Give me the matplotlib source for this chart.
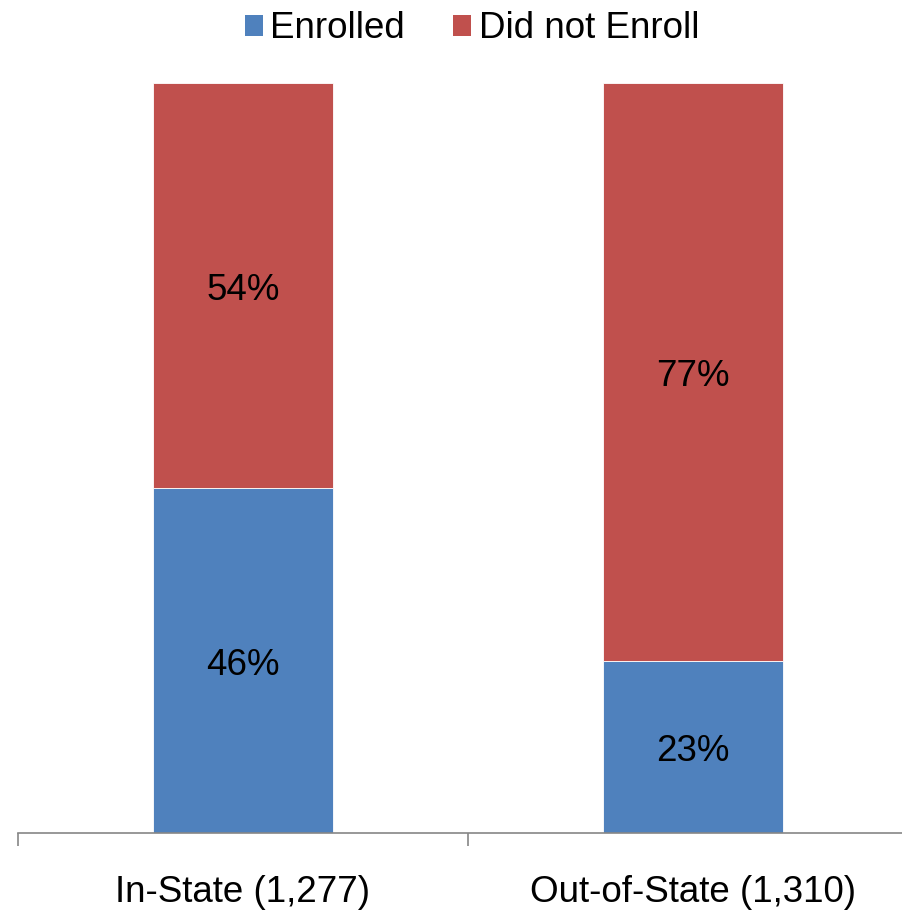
import matplotlib
matplotlib.use("Agg")
import matplotlib.pyplot as plt
from matplotlib.patches import Patch
import matplotlib.transforms as mtransforms

plt.rcParams['font.family'] = ['Liberation Sans', 'DejaVu Sans']

categories = ['In-State (1,277)', 'Out-of-State (1,310)']
enrolled = [46, 23]
not_enrolled = [54, 77]
series_names = ['Enrolled', 'Did not Enroll']
colors = ['#4F81BD', '#C0504D']

fs = 26.5
W, H = 903, 911
fig = plt.figure(figsize=(W / 100, H / 100), dpi=100)
ax = fig.add_axes([18 / W, 78 / H, 900 / W, 750 / H])

x = list(range(len(categories)))
ax.bar(x, enrolled, width=0.4, color=colors[0], edgecolor='white', linewidth=0.6)
ax.bar(x, not_enrolled, width=0.4, bottom=enrolled, color=colors[1],
       edgecolor='white', linewidth=0.6)

# excel puts the labels a touch below the segment centre
shift = mtransforms.offset_copy(ax.transData, fig=fig, x=0, y=-5, units='dots')
for i in x:
    ax.text(i, enrolled[i] / 2, f'{enrolled[i]}%', ha='center', va='center',
            fontsize=fs, transform=shift)
    ax.text(i, enrolled[i] + not_enrolled[i] / 2, f'{not_enrolled[i]}%',
            ha='center', va='center', fontsize=fs, transform=shift)

ax.set_xlim(-0.5, 1.5)
ax.set_ylim(0, 100)
for s in ['top', 'right', 'left']:
    ax.spines[s].set_visible(False)
ax.spines['bottom'].set_color('#868686')
ax.spines['bottom'].set_linewidth(1.2)
ax.set_yticks([])
ax.set_xticks(x)
ax.set_xticklabels(categories, fontsize=fs)
ax.tick_params(axis='x', which='major', length=0, pad=30)
ax.set_xticks([-0.5, 0.5, 1.5], minor=True)
ax.tick_params(axis='x', which='minor', length=9, width=1.2, color='#868686')

handles = [Patch(facecolor=c, edgecolor='none') for c in colors]
fig.legend(handles, series_names, loc='center', bbox_to_anchor=(472 / W, 1 - 29 / H),
           ncol=2, frameon=False, fontsize=fs, handlelength=0.5, handleheight=0.5,
           handletextpad=0.2, columnspacing=1.3)

fig.savefig('out.png', dpi=100)
